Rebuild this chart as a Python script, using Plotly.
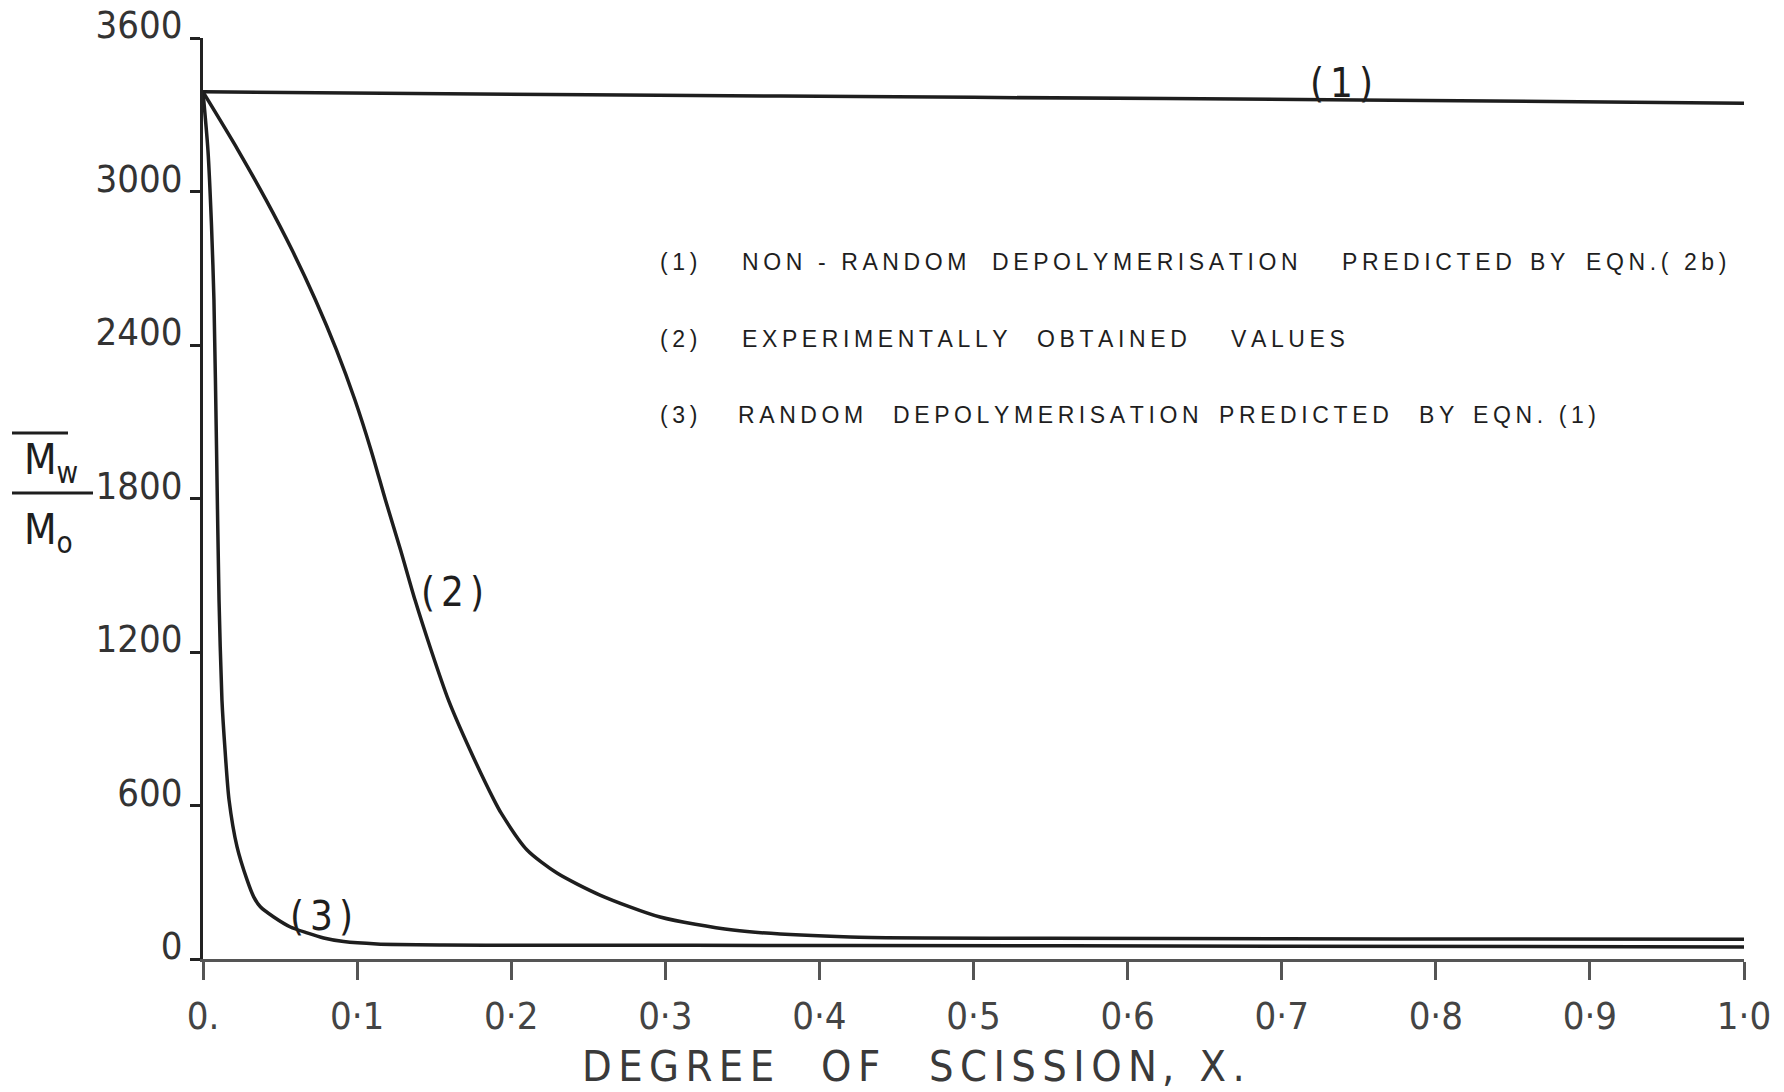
import plotly.graph_objects as go

# ---------------- data ----------------
x_ticks = [0.0, 0.1, 0.2, 0.3, 0.4, 0.5, 0.6, 0.7, 0.8, 0.9, 1.0]
x_tick_text = ["0.", "0·1", "0·2", "0·3", "0·4", "0·5", "0·6", "0·7", "0·8", "0·9", "1·0"]
y_ticks = [0, 600, 1200, 1800, 2400, 3000, 3600]
y_tick_text = ["0", "600", "1200", "1800", "2400", "3000", "3600"]

# (1) non-random depolymerisation, eqn (2b)
x_curve1 = [0.0, 0.25, 0.5, 0.75, 1.0]
mw_curve1 = [3390, 3378, 3368, 3358, 3345]

# (2) experimentally obtained values
x_curve2 = [0.0, 0.0227, 0.0409, 0.0578, 0.0730, 0.0866, 0.0986, 0.1090, 0.1184,
            0.1282, 0.1376, 0.1480, 0.1593, 0.1733, 0.1888, 0.1934, 0.2103, 0.2297,
            0.2576, 0.2966, 0.3439, 0.4199, 0.55, 0.7, 0.85, 1.0]
mw_curve2 = [3389, 3162, 2967, 2771, 2576, 2381, 2185, 1990, 1794,
             1599, 1403, 1208, 1012, 817, 622, 571, 426, 336,
             250, 164, 113, 86, 81, 79, 78, 77]

# (3) random depolymerisation, eqn (1)
x_curve3 = [0.0, 0.0032, 0.0055, 0.0071, 0.0088, 0.0104, 0.0123, 0.0143, 0.0169,
            0.0221, 0.0286, 0.0329, 0.0372, 0.0459, 0.0567, 0.0675, 0.0783, 0.0913,
            0.1129, 0.1562, 0.2, 0.42, 0.7, 1.0]
mw_curve3 = [3389, 3162, 2869, 2576, 1990, 1403, 1012, 817, 622,
             438, 309, 243, 204, 164, 125, 102, 82, 68,
             59, 55, 54, 53, 50, 47]

curve_labels = ["(1)", "(2)", "(3)"]
curve_label_x = [0.739, 0.1616, 0.0772]
curve_label_y = [3425, 1435, 168]

legend_lines = [
    [("(1)", 658), ("NON - RANDOM", 740), ("DEPOLYMERISATION", 990),
     ("PREDICTED", 1340), ("BY", 1528), ("EQN.( 2b)", 1584)],
    [("(2)", 658), ("EXPERIMENTALLY", 740), ("OBTAINED", 1035), ("VALUES", 1229)],
    [("(3)", 658), ("RANDOM", 736), ("DEPOLYMERISATION", 891),
     ("PREDICTED", 1217), ("BY", 1417), ("EQN. (1)", 1471)],
]
legend_y = [262, 339, 415]

x_title_words = [("DEGREE", 580), ("OF", 819), ("SCISSION", 927), (", X.", 1160)]

# ---------------- layout geometry ----------------
W, H = 1784, 1092
L, R, T, B = 203, 40, 38, 133
PW = W - L - R
PH = H - T - B


def px(x):
    return (x - L) / PW


def py(y):
    return (H - B - y) / PH


def track(s, sep="\u2009"):
    return sep.join(s)


INK = "#1e1e1e"
COND = "DejaVu Sans Condensed, DejaVu Sans, sans-serif"
SANS = "Liberation Sans, Arial, sans-serif"

fig = go.Figure()
for xs, ys in [(x_curve1, mw_curve1), (x_curve2, mw_curve2), (x_curve3, mw_curve3)]:
    fig.add_trace(go.Scatter(x=xs, y=ys, mode="lines",
                             line=dict(color=INK, width=3.5, shape="spline", smoothing=0.7),
                             showlegend=False, hoverinfo="skip", cliponaxis=False))

annotations = []
for t, xv, yv in zip(curve_labels, curve_label_x, curve_label_y):
    annotations.append(dict(x=xv, y=yv, xref="x", yref="y", text=track(t, "\u2006"),
                            showarrow=False,
                            font=dict(family=COND, size=40, color=INK),
                            xanchor="center", yanchor="middle"))

for words, yy in zip(legend_lines, legend_y):
    for w, xx in words:
        annotations.append(dict(x=px(xx), y=py(yy), xref="paper", yref="paper",
                                text=track(w, "\u2009"), showarrow=False,
                                font=dict(family=SANS, size=23, color=INK),
                                xanchor="left", yanchor="middle"))

for w, xx in x_title_words:
    annotations.append(dict(x=px(xx), y=py(1066), xref="paper", yref="paper",
                            text=track(w, "\u2006"), showarrow=False,
                            font=dict(family=COND, size=43, color="#3a3a3a"),
                            xanchor="left", yanchor="middle"))

# y-axis title: overline(M_w) / M_o
annotations.append(dict(x=px(22), y=py(462), xref="paper", yref="paper",
                        text="M<sub>w</sub>", showarrow=False,
                        font=dict(family=COND, size=42, color=INK),
                        xanchor="left", yanchor="middle"))
annotations.append(dict(x=px(22), y=py(532), xref="paper", yref="paper",
                        text="M<sub>o</sub>", showarrow=False,
                        font=dict(family=COND, size=42, color=INK),
                        xanchor="left", yanchor="middle"))

shapes = [
    dict(type="line", xref="paper", yref="paper", x0=px(12), x1=px(68),
         y0=py(433), y1=py(433), line=dict(color=INK, width=3)),
    dict(type="line", xref="paper", yref="paper", x0=px(12), x1=px(93),
         y0=py(493), y1=py(493), line=dict(color=INK, width=3)),
]

fig.update_layout(
    width=W, height=H,
    margin=dict(l=L, r=R, t=T, b=B, autoexpand=False),
    paper_bgcolor="white", plot_bgcolor="white",
    showlegend=False,
    annotations=annotations,
    shapes=shapes,
    xaxis=dict(range=[0, 1.0], tickvals=x_ticks, ticktext=x_tick_text, automargin=False,
               showgrid=False, zeroline=False, showline=True, linecolor="#555", linewidth=2.5,
               ticks="outside", ticklen=18, tickwidth=2.5, tickcolor="#555",
               ticklabelstandoff=4,
               tickfont=dict(family=COND, size=38, color="#444")),
    yaxis=dict(range=[0, 3600], tickvals=y_ticks, ticktext=y_tick_text, automargin=False,
               showgrid=False, zeroline=False, showline=True, linecolor="#222", linewidth=3,
               ticks="outside", ticklen=10, tickwidth=2.5, tickcolor="#222",
               ticklabelshift=-13,
               tickfont=dict(family=COND, size=38, color="#333")),
)

fig.write_html("out.html")
